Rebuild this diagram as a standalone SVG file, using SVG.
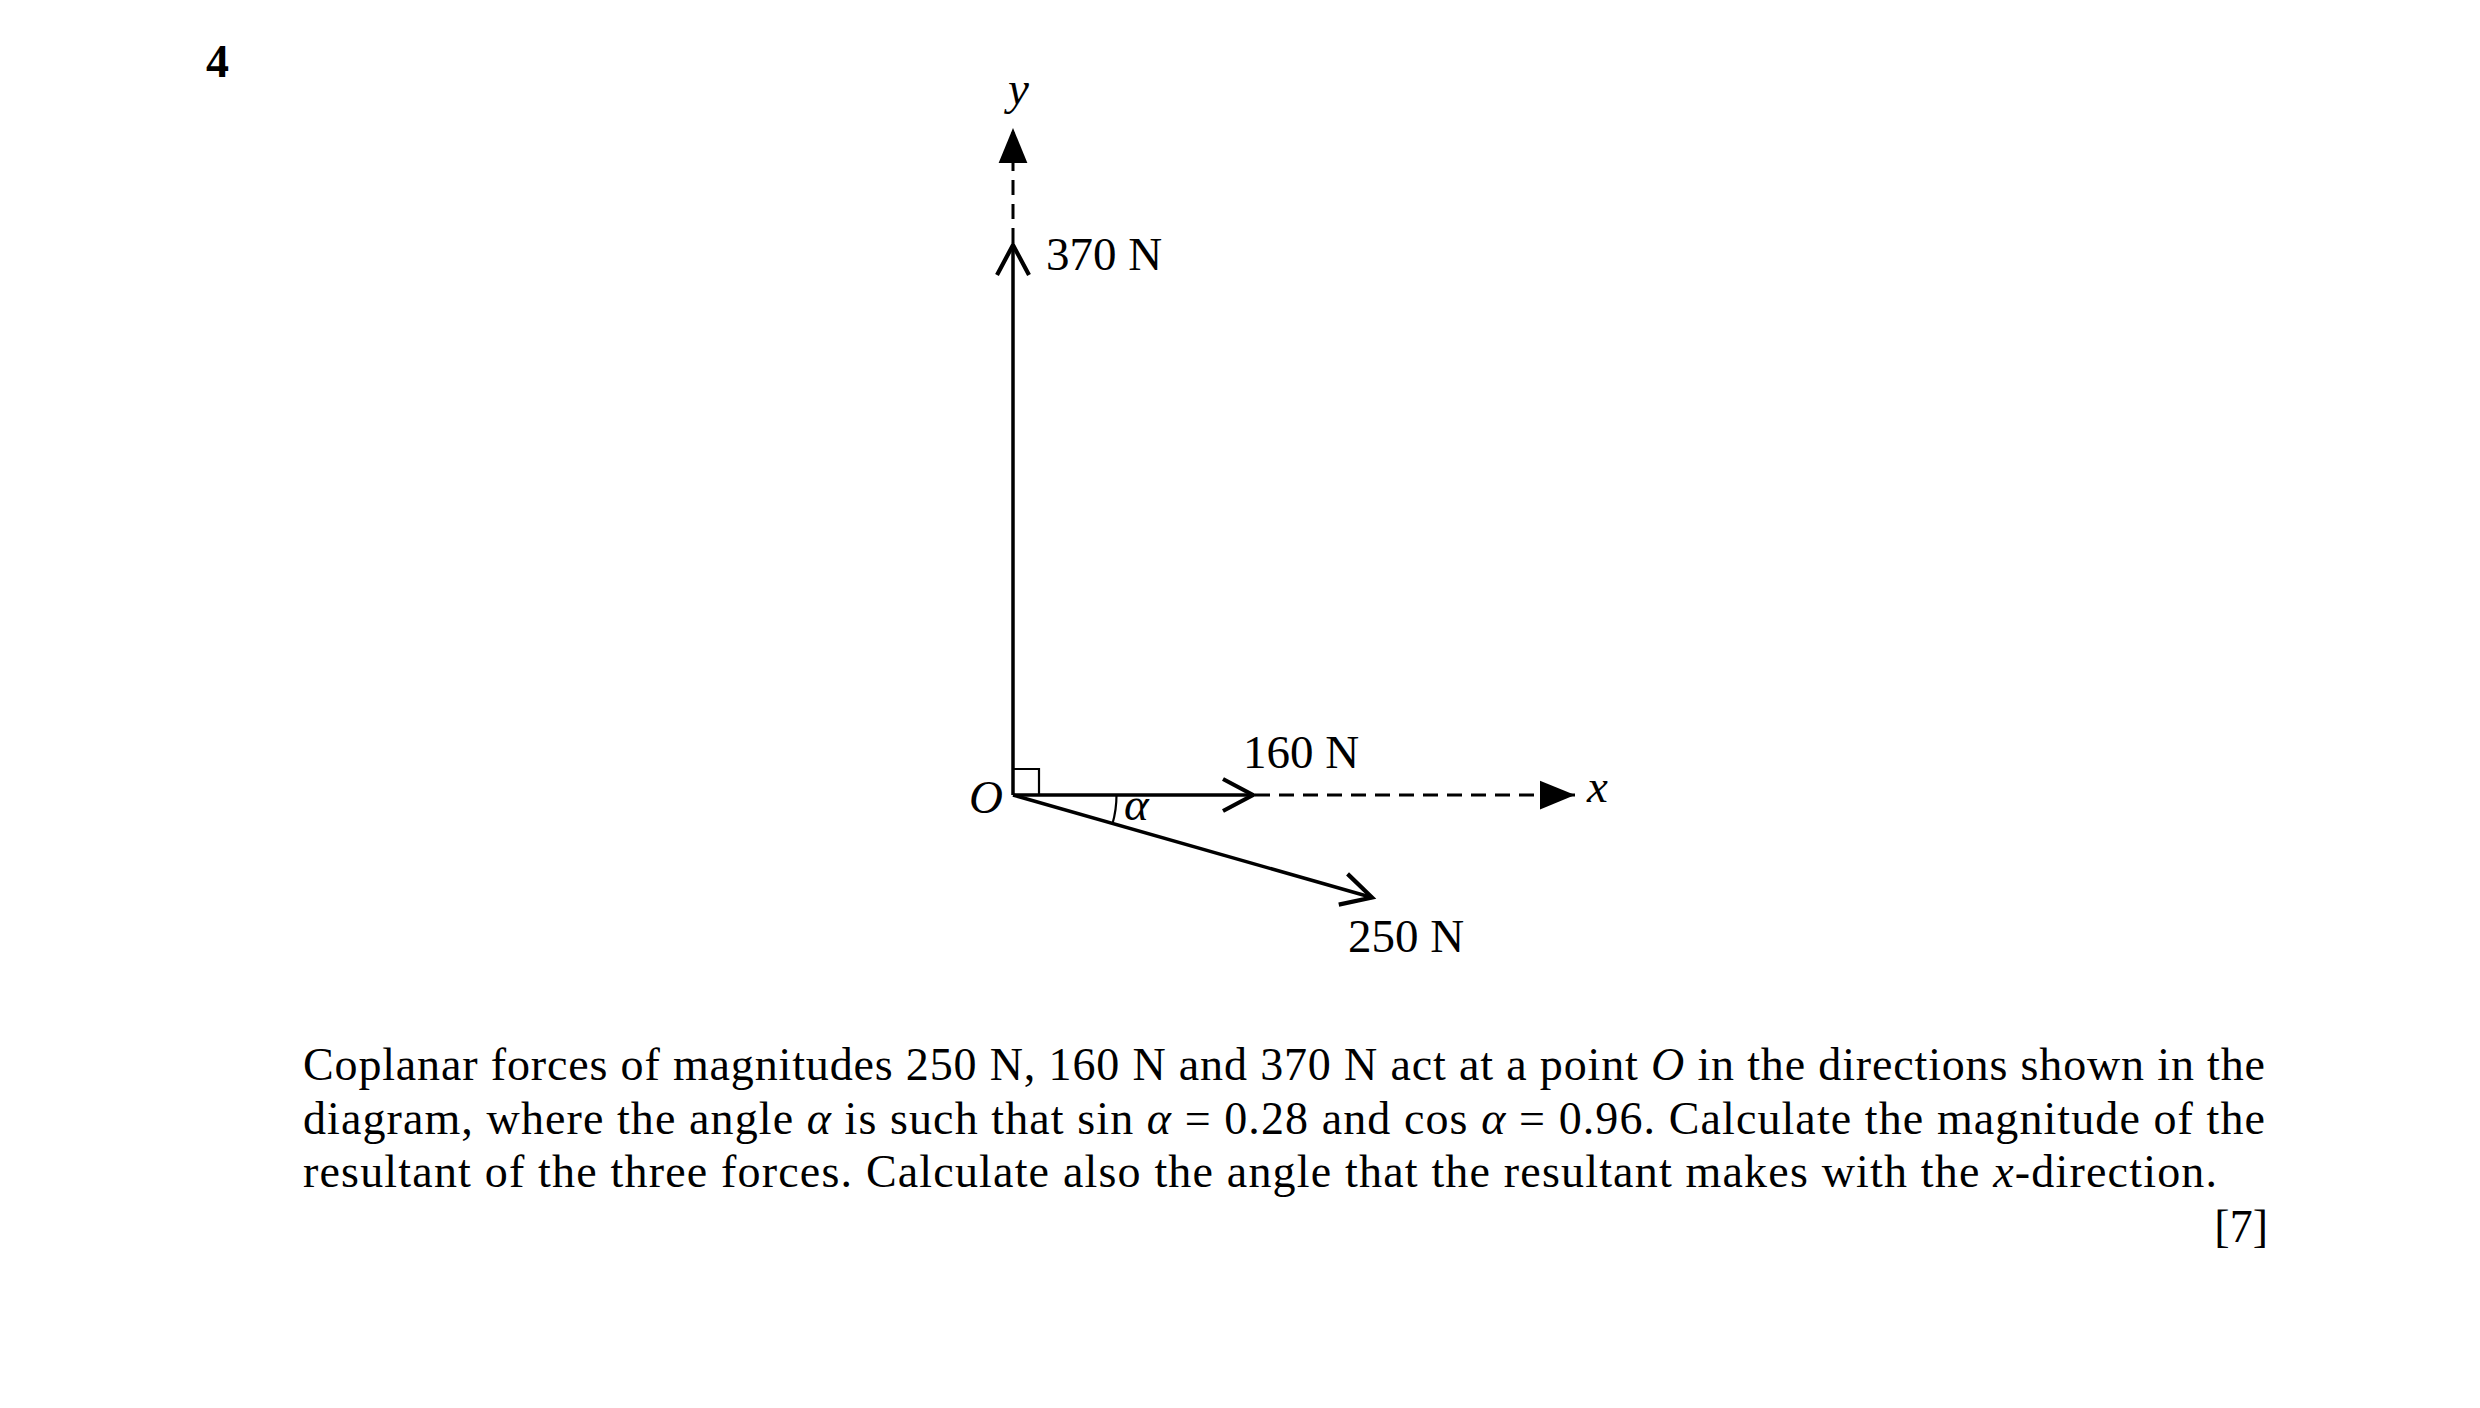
<svg xmlns="http://www.w3.org/2000/svg" width="2480" height="1408" viewBox="0 0 2480 1408">
<style>
text{font-family:"Liberation Serif","Times New Roman",serif;fill:#000}
.lbl{font-size:47px}
.it{font-style:italic}
.para{font-size:46px}
.force{stroke:#000;stroke-width:3.5;fill:none}
.axis{stroke:#000;stroke-width:3;fill:none;stroke-dasharray:15 9}
.thin{stroke:#000;stroke-width:2.2;fill:none}
</style>
<defs>
<marker id="open" markerUnits="userSpaceOnUse" markerWidth="40" markerHeight="40" viewBox="-34 -20 40 40" refX="0" refY="0" orient="auto" overflow="visible">
<path d="M-30,-16 L0,0 L-30,16" fill="none" stroke="#000" stroke-width="4.2"/>
</marker>
<marker id="solid" markerUnits="userSpaceOnUse" markerWidth="40" markerHeight="40" viewBox="-30 -15 32 30" refX="0" refY="0" orient="auto" overflow="visible">
<path d="M-28,-11.5 L0,0 L-28,11.5 Z" fill="#000"/>
</marker>
</defs>
<rect width="2480" height="1408" fill="#fff"/>
<text x="206" y="77" style="font-size:46px;font-weight:bold">4</text>
<g id="connectors">
<path class="axis" d="M1013,243 V128" marker-end="url(#solid)"/>
<path class="axis" d="M1255,795 H1575" marker-end="url(#solid)"/>
<path class="force" d="M1013,795 V245" marker-end="url(#open)"/>
<path class="force" d="M1013,795 H1253" marker-end="url(#open)"/>
<path class="force" d="M1013,795 L1372,897.5" marker-end="url(#open)"/>
<path class="thin" d="M1013,769 H1039 V795"/>
<path class="thin" d="M1116.5,795 A103.5,103.5 0 0 1 1112.4,824"/>
</g>
<g id="axis-y"><text class="lbl it" x="1008" y="104">y</text></g>
<g id="axis-x"><text class="lbl it" x="1587" y="802">x</text></g>
<g id="origin"><text class="lbl it" x="969" y="813">O</text></g>
<g id="alpha"><text class="lbl it" x="1124" y="820">α</text></g>
<g id="force-370"><text class="lbl" x="1046" y="270">370 N</text></g>
<g id="force-160"><text class="lbl" x="1243" y="768">160 N</text></g>
<g id="force-250"><text class="lbl" x="1348" y="952">250 N</text></g>
<g id="question">
<text class="para" x="303" y="1080" textLength="1962" lengthAdjust="spacing">Coplanar forces of magnitudes 250 N, 160 N and 370 N act at a point <tspan class="it">O</tspan> in the directions shown in the</text>
<text class="para" x="303" y="1134" textLength="1962" lengthAdjust="spacing">diagram, where the angle <tspan class="it">α</tspan> is such that sin <tspan class="it">α</tspan> = 0.28 and cos <tspan class="it">α</tspan> = 0.96.  Calculate the magnitude of the</text>
<text class="para" x="303" y="1187" textLength="1914" lengthAdjust="spacing">resultant of the three forces.  Calculate also the angle that the resultant makes with the <tspan class="it">x</tspan>-direction.</text>
<text class="para" x="2268" y="1242" text-anchor="end">[7]</text>
</g>
</svg>
